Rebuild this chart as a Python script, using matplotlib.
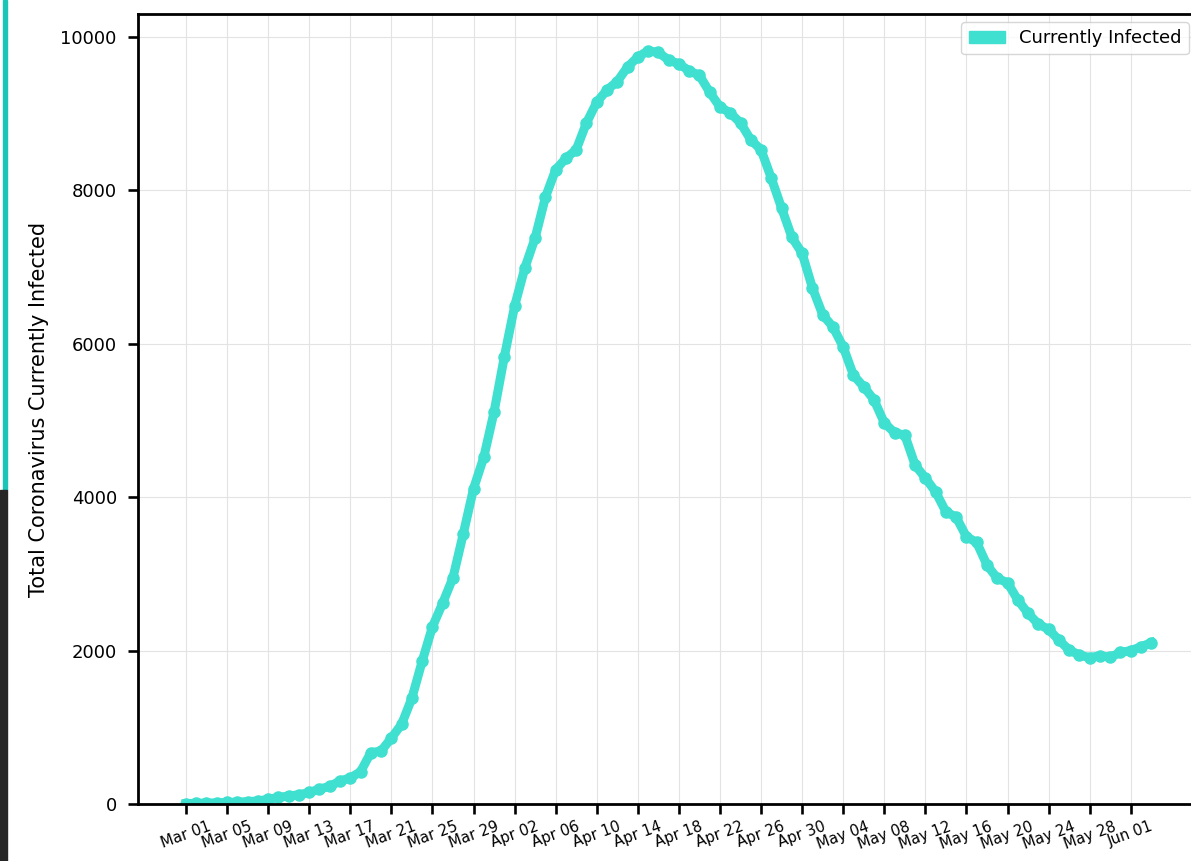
import matplotlib
matplotlib.use("Agg")
import matplotlib.pyplot as plt
import matplotlib.dates as mdates
import matplotlib.patches as mpatches
import pandas as pd

# daily "currently infected" counts, Mar 01 .. Jun 03 2020
start_date = "2020-03-01"
infected = [
    5, 10, 12, 15, 20, 25, 30, 40, 60, 85,
    105, 120, 150, 195, 230, 300, 340, 420, 670, 690,
    860, 1040, 1380, 1860, 2310, 2620, 2950, 3520, 4110, 4520,
    5110, 5830, 6490, 6990, 7380, 7910, 8270, 8420, 8530, 8880,
    9150, 9310, 9420, 9610, 9740, 9820, 9800, 9700, 9650, 9560,
    9500, 9280, 9090, 9010, 8880, 8660, 8530, 8160, 7770, 7390,
    7180, 6730, 6380, 6220, 5960, 5590, 5440, 5270, 4970, 4840,
    4810, 4420, 4250, 4070, 3810, 3740, 3485, 3410, 3116, 2942,
    2886, 2660, 2486, 2347, 2277, 2138, 2008, 1943, 1908, 1934,
    1912, 1978, 1999, 2051, 2103,
]
dates = pd.date_range(start_date, periods=len(infected), freq="D")
tick_dates = pd.date_range("2020-03-01", "2020-06-01", freq="4D")
y_ticks = [0, 2000, 4000, 6000, 8000, 10000]

color = "turquoise"

fig = plt.figure(figsize=(11.91, 8.61), dpi=100)
ax = fig.add_axes([0.1156, 0.0662, 0.8916, 0.9175])

ax.plot(dates, infected, color=color, linewidth=6.5, marker="o", markersize=8)

ax.set_ylim(0, 10300)
ax.set_yticks(y_ticks)
ax.set_xticks(tick_dates)
ax.xaxis.set_major_formatter(mdates.DateFormatter("%b %d"))
plt.setp(ax.get_xticklabels(), rotation=20, fontsize=10.7)
ax.tick_params(axis="y", labelsize=13, pad=8)
ax.tick_params(axis="both", length=7, width=1.9, direction="out")
ax.tick_params(axis="x", pad=4)

ax.set_ylabel("Total Coronavirus Currently Infected", fontsize=15, labelpad=8)
ax.grid(True, color="#e3e3e3", linewidth=0.8)
ax.set_axisbelow(True)
for s in ax.spines.values():
    s.set_linewidth(2.0)
ax.spines["right"].set_visible(False)

handle = mpatches.Patch(color=color, label="Currently Infected")
ax.legend(handles=[handle], loc="upper right", fontsize=13,
          bbox_to_anchor=(0.990, 0.990), borderaxespad=0)

# screenshot edge strips on the left
fig.patches.append(mpatches.Rectangle((3.3 / 1191, 1 - 490 / 861), 3.4 / 1191, 490 / 861,
                                      transform=fig.transFigure, color="#1cc6b6", zorder=5))
fig.patches.append(mpatches.Rectangle((0, 0), 6.5 / 1191, 1 - 490 / 861,
                                      transform=fig.transFigure, color="#262626", zorder=5))

fig.savefig("out.png", dpi=100)
